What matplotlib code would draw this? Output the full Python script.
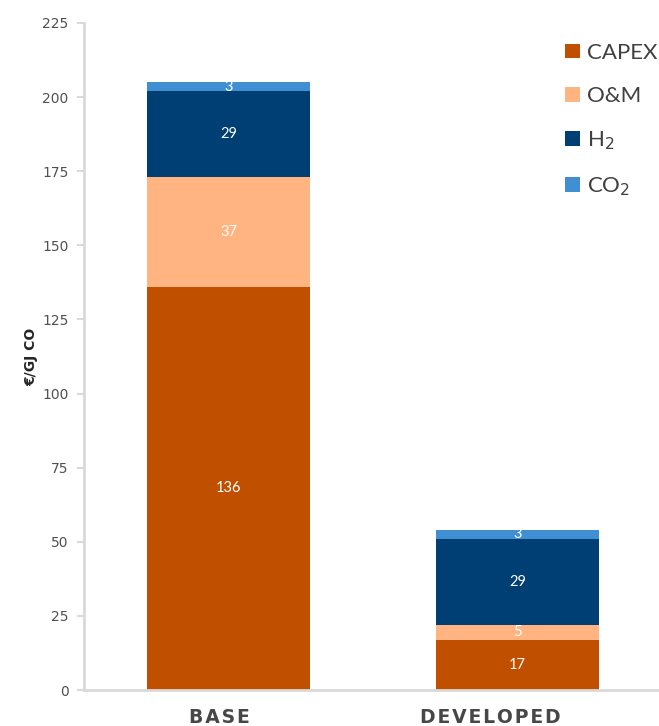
import numpy as np
import matplotlib.pyplot as plt
import matplotlib.transforms as mtransforms

# cost breakdown per scenario (€/GJ CO)
scenarios = ["BASE", "DEVELOPED"]
components = ["CAPEX", "O&M", "H$_2$", "CO$_2$"]
capex = [136, 17]
om = [37, 5]
h2 = [29, 29]
co2 = [3, 3]

colors = ["#C05000", "#FFB482", "#003F73", "#3F8FD2"]
series = [capex, om, h2, co2]

plt.rcParams["font.family"] = ["Lato", "DejaVu Sans"]

fig = plt.figure(figsize=(6.59, 7.26), dpi=100)
ax = fig.add_axes([84 / 659, 36 / 726, 575 / 659, 667 / 726])

x = np.arange(len(scenarios))
bottom = np.zeros(len(scenarios))
for name, vals, col in zip(components, series, colors):
    vals = np.array(vals, dtype=float)
    ax.bar(x, vals, width=0.565, bottom=bottom, color=col,
           label=name, edgecolor="none")
    for xi, b, v in zip(x, bottom, vals):
        ax.text(xi, b + v / 2, f"{v:g}", ha="center", va="center",
                color="white", fontsize=10.5)
    bottom += vals

ax.set_xlim(-0.5, 1.49)
ax.set_ylim(0, 225)
ax.set_yticks(np.arange(0, 226, 25))
ax.tick_params(axis="y", colors="#D9D9D9", labelcolor="#505050",
               labelsize=10, length=5, width=1.5, pad=6,
               labelfontfamily="DejaVu Sans")
ax.tick_params(axis="x", length=0, pad=13)
ax.set_xticks(x)
ax.set_xticklabels(["\u200a".join(s) for s in scenarios],
                   fontweight="heavy", fontsize=13.5, color="#474747",
                   fontfamily="DejaVu Sans")

# category labels sit a little left of the bar centres
for lbl, dx in zip(ax.get_xticklabels(), [-9, -27]):
    lbl.set_transform(lbl.get_transform() +
                      mtransforms.ScaledTranslation(dx / 100, 0, fig.dpi_scale_trans))

for side in ["top", "right"]:
    ax.spines[side].set_visible(False)
for side in ["left", "bottom"]:
    ax.spines[side].set_color("#D9D9D9")
    ax.spines[side].set_linewidth(2)

ax.set_ylabel("€/GJ CO", fontweight="bold", fontsize=10, color="#262626",
              fontfamily="DejaVu Sans", labelpad=3)

leg = ax.legend(loc="upper right", bbox_to_anchor=(1.016, 0.987), frameon=False,
                fontsize=16, labelcolor="#404040", handlelength=0.65,
                handleheight=0.65, handletextpad=0.3, labelspacing=1.05,
                borderaxespad=0.1)

fig.savefig("out.png", dpi=100)
